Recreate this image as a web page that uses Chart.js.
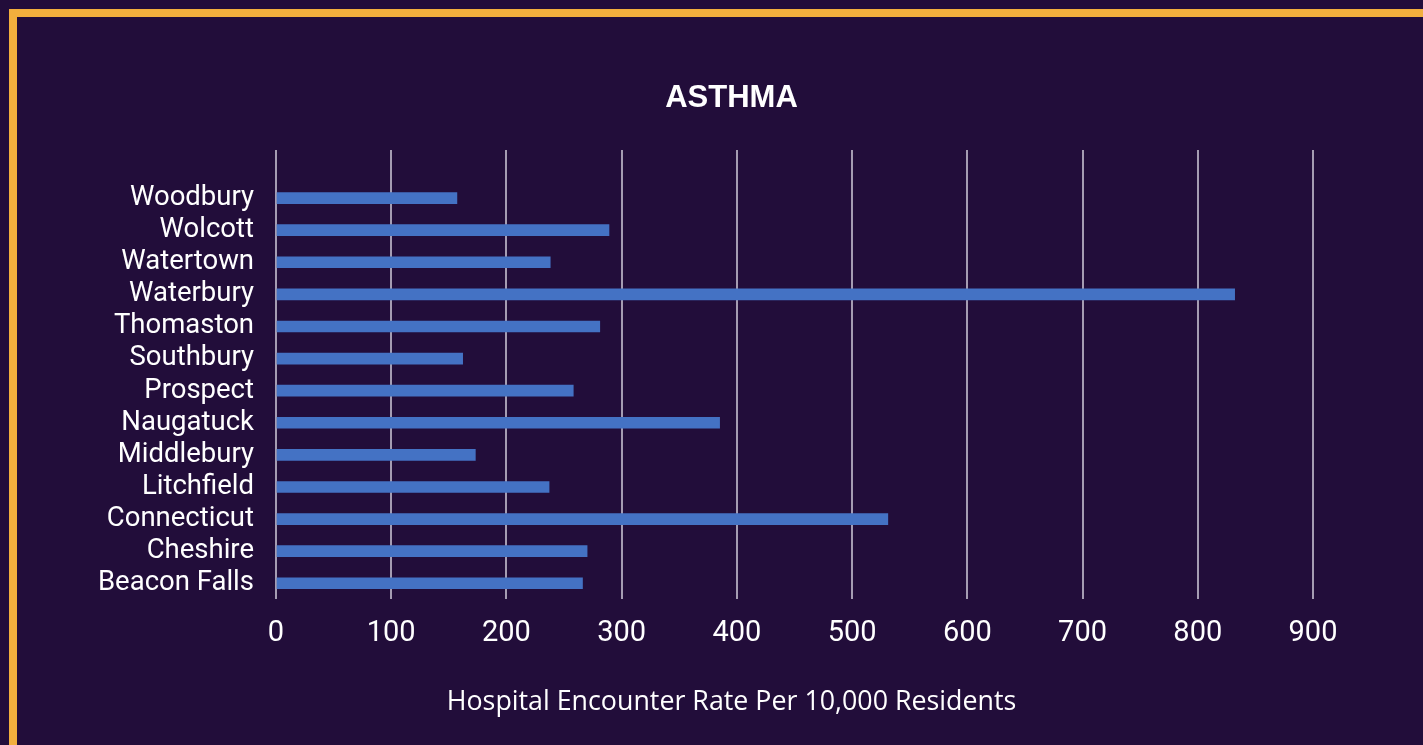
<!DOCTYPE html>
<html>
<head>
<meta charset="utf-8">
<script src="https://cdn.jsdelivr.net/npm/chart.js@4.4.1/dist/chart.umd.min.js"></script>
<style>
  html, body { margin: 0; padding: 0; background: #220d3a; width: 1423px; height: 745px; overflow: hidden; }
  #frame { position: absolute; left: 9px; top: 9px; width: 1406px; height: 728px; border-top: 8px solid #f2af3d; border-left: 8px solid #f2af3d; }
  #wrap { position: absolute; left: 40px; top: 17px; width: 1383px; height: 728px; }
</style>
</head>
<body>
<div id="frame"></div>
<div id="wrap"><canvas id="c"></canvas></div>
<script>
// Data (top to bottom as shown)
const categories = ["Woodbury", "Wolcott", "Watertown", "Waterbury", "Thomaston", "Southbury", "Prospect", "Naugatuck", "Middlebury", "Litchfield", "Connecticut", "Cheshire", "Beacon Falls"];
const rates = [157, 289, 238, 832, 281, 162, 258, 385, 173, 237, 531, 270, 266];
const chartTitle = "ASTHMA";
const axisTitle = "Hospital Encounter Rate Per 10,000 Residents";
const xMin = 0, xMax = 900, xStep = 100;

const gridColor = "#a59cb2";
Chart.defaults.font.family = "Roboto";

new Chart(document.getElementById("c"), {
  type: "bar",
  data: {
    labels: categories,
    datasets: [{
      label: chartTitle,
      data: rates,
      backgroundColor: "#4472c4",
      borderWidth: 0,
      barThickness: 11
    }]
  },
  options: {
    indexAxis: "y",
    responsive: true,
    maintainAspectRatio: false,
    animation: false,
    layout: { padding: 0 },
    plugins: {
      legend: { display: false },
      tooltip: { enabled: false },
      title: {
        display: true,
        text: chartTitle,
        color: "#ffffff",
        font: { family: "Liberation Sans", size: 31, weight: "bold" },
        padding: { top: 63, bottom: 32.8 }
      },
      subtitle: {
        display: true,
        position: "bottom",
        text: axisTitle,
        color: "#ffffff",
        font: { family: "Open Sans", size: 26.8, weight: "normal" },
        padding: { top: 17.2, bottom: 26.5 }
      }
    },
    scales: {
      x: {
        type: "linear",
        position: "bottom",
        min: xMin,
        max: xMax,
        ticks: { stepSize: xStep, color: "#ffffff", font: { size: 29 }, padding: 17.5 },
        grid: { color: gridColor, lineWidth: 2, drawTicks: false },
        border: { display: false }
      },
      x2: {
        type: "linear",
        axis: "x",
        position: "top",
        min: xMin,
        max: xMax,
        ticks: { stepSize: xStep, display: false },
        grid: { color: gridColor, lineWidth: 2, drawOnChartArea: false, drawTicks: true, tickLength: 32 },
        border: { display: false }
      },
      y: {
        type: "category",
        ticks: { color: "#ffffff", font: { size: 27.5 }, padding: 22, autoSkip: false },
        grid: { display: false, drawTicks: false },
        border: { display: false },
        afterFit: (scale) => { scale.width = 236; }
      },
      y2: {
        type: "category",
        axis: "y",
        position: "right",
        ticks: { display: false },
        grid: { display: false, drawTicks: false },
        border: { display: false },
        afterFit: (scale) => { scale.width = 110; }
      }
    }
  }
});
</script>
</body>
</html>
